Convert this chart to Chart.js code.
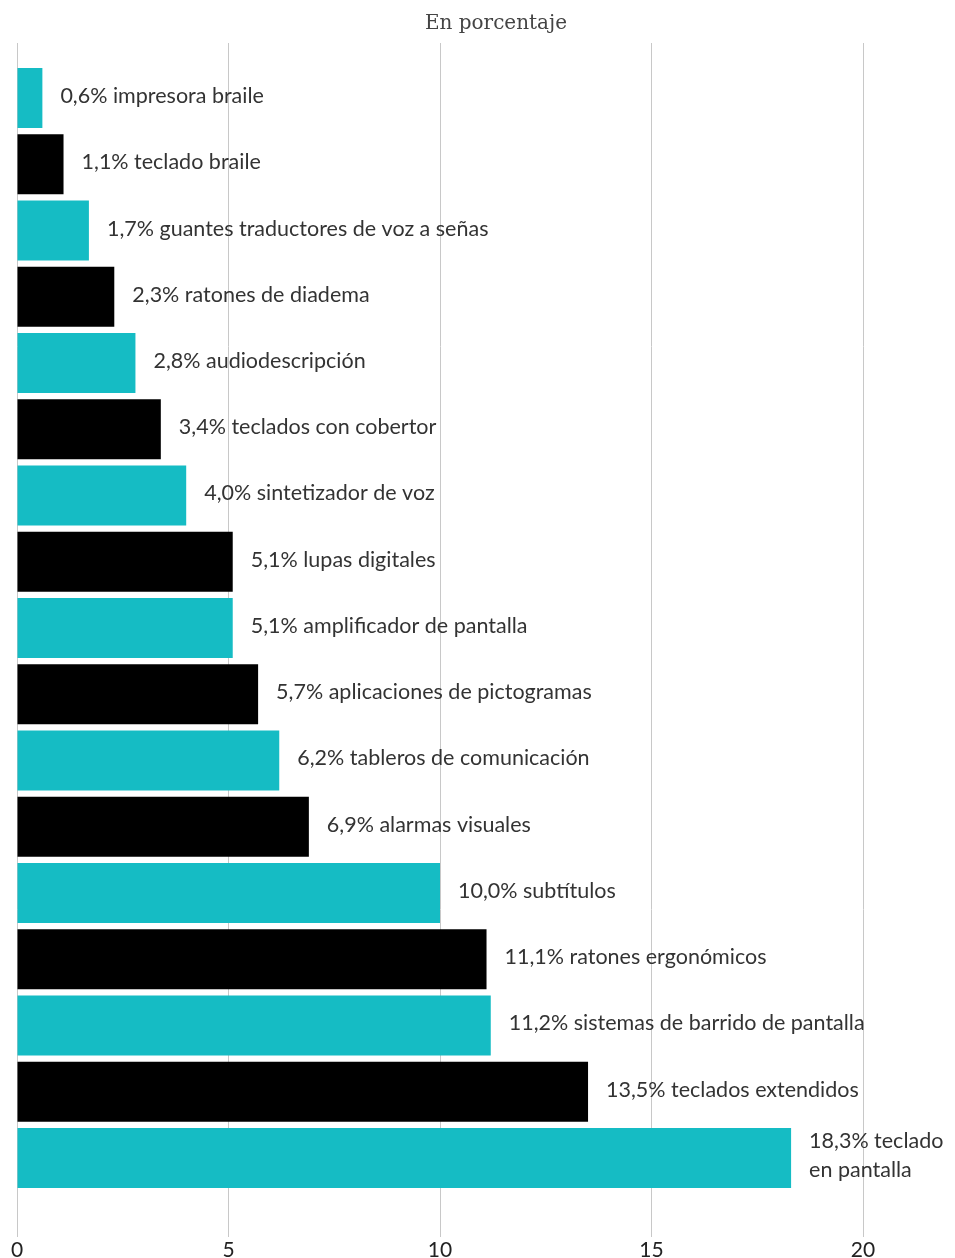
<!DOCTYPE html>
<html><head><meta charset="utf-8">
<script src="https://cdn.jsdelivr.net/npm/chart.js@4"></script>
<style>
html,body{margin:0;padding:0;background:#fff;}
#wrap{position:relative;width:955px;height:1258px;overflow:hidden;}
#sub{position:absolute;top:10px;left:0;width:992px;text-align:center;font-family:"DejaVu Serif",serif;font-size:20px;color:#444;}
canvas{position:absolute;left:0;top:0;}
</style></head><body>
<div id="wrap">
<canvas id="c" width="955" height="1258"></canvas>
<div id="sub">En porcentaje</div>
</div>
<script>
const categories = ["impresora braile","teclado braile","guantes traductores de voz a señas","ratones de diadema","audiodescripción","teclados con cobertor","sintetizador de voz","lupas digitales","amplificador de pantalla","aplicaciones de pictogramas","tableros de comunicación","alarmas visuales","subtítulos","ratones ergonómicos","sistemas de barrido de pantalla","teclados extendidos","teclado en pantalla"];
const values = [0.6,1.1,1.7,2.3,2.8,3.4,4.0,5.1,5.1,5.7,6.2,6.9,10.0,11.1,11.2,13.5,18.3];
const labelLines = [["0,6% impresora braile"],["1,1% teclado braile"],["1,7% guantes traductores de voz a señas"],["2,3% ratones de diadema"],["2,8% audiodescripción"],["3,4% teclados con cobertor"],["4,0% sintetizador de voz"],["5,1% lupas digitales"],["5,1% amplificador de pantalla"],["5,7% aplicaciones de pictogramas"],["6,2% tableros de comunicación"],["6,9% alarmas visuales"],["10,0% subtítulos"],["11,1% ratones ergonómicos"],["11,2% sistemas de barrido de pantalla"],["13,5% teclados extendidos"],["18,3% teclado","en pantalla"]];
const xTicks = [0,5,10,15,20];
const TEAL = "#15bcc4", BLACK = "#000000";
const colors = values.map((v,i)=> i%2===0 ? TEAL : BLACK);

const labelPlugin = {
  id:'valueLabels',
  afterDatasetsDraw(chart){
    const ctx = chart.ctx;
    const meta = chart.getDatasetMeta(0);
    ctx.save();
    ctx.font = '21.5px Lato, sans-serif';
    ctx.fillStyle = '#333';
    ctx.textBaseline = 'middle';
    ctx.textAlign = 'left';
    meta.data.forEach((bar,i)=>{
      const lines = labelLines[i];
      const lh = 29;
      const y0 = bar.y - (lines.length-1)*lh/2 - 2;
      lines.forEach((t,k)=> ctx.fillText(t, bar.x + 18, y0 + k*lh));
    });
    ctx.restore();
  }
};

new Chart(document.getElementById('c'), {
  type:'bar',
  data:{ labels: categories, datasets:[{ data: values, backgroundColor: colors, borderWidth:0, barPercentage:0.906, categoryPercentage:1 }]},
  options:{
    indexAxis:'y', responsive:false, animation:false,
    layout:{ padding:{ left:17, right:92, top:43, bottom:-6 } },
    plugins:{ legend:{display:false}, tooltip:{enabled:false} },
    scales:{
      x:{ type:'linear', position:'bottom', min:0, max:20,
          afterBuildTicks(s){ s.ticks = xTicks.map(v=>({value:v})); },
          grid:{ color:'#c8c8c8', lineWidth:1, tickLength:46, drawTicks:true },
          border:{ display:false },
          ticks:{ padding:3, color:'#222', font:{ family:'Lato, sans-serif', size:21, lineHeight:1 } } },
      x2:{ type:'linear', position:'top', min:0, max:20,
          afterBuildTicks(s){ s.ticks = xTicks.map(v=>({value:v})); },
          grid:{ color:'#c8c8c8', lineWidth:1, tickLength:22, drawOnChartArea:false },
          border:{ display:false },
          ticks:{ display:false } },
      y:{ type:'category', display:false, grid:{display:false} }
    }
  },
  plugins:[labelPlugin]
});
</script>
</body></html>
